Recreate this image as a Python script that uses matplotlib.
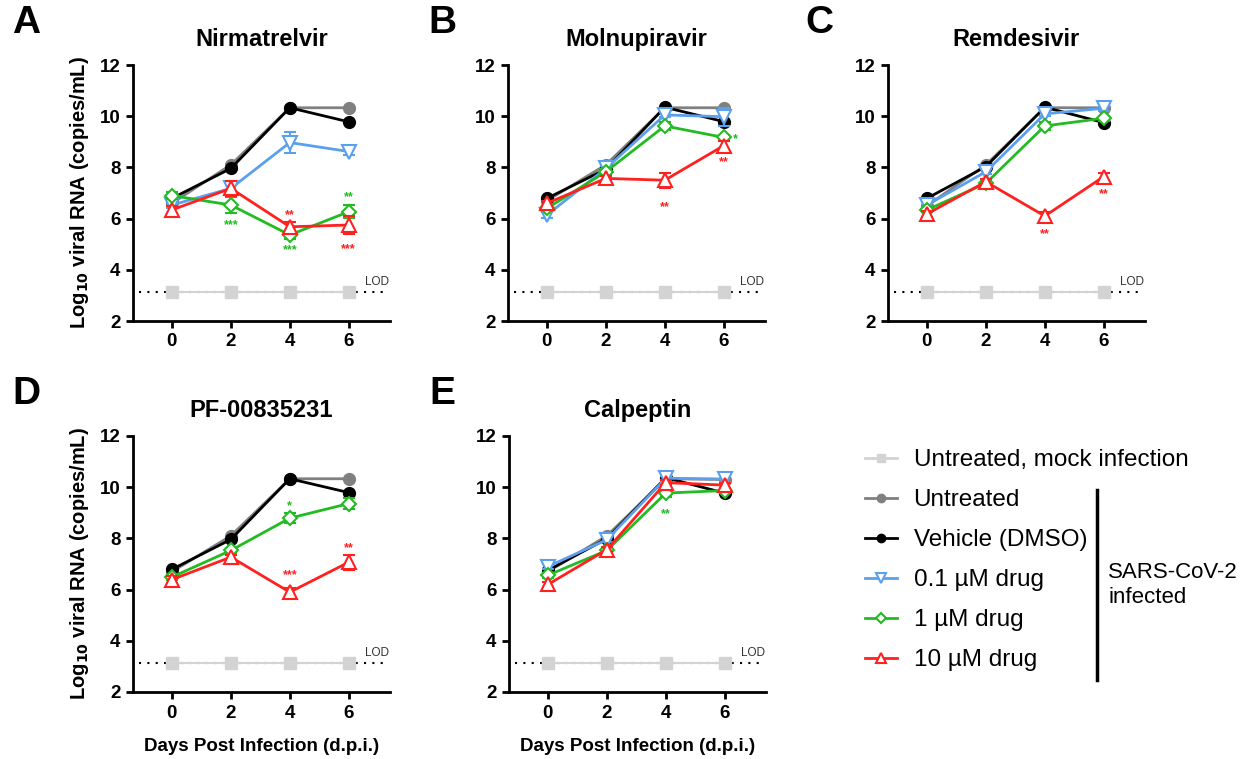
import matplotlib
matplotlib.use("Agg")
import matplotlib.pyplot as plt
from matplotlib.lines import Line2D
import numpy as np

plt.rcParams['font.family'] = ['Liberation Sans', 'DejaVu Sans']

days = [0, 2, 4, 6]
titles = ["Nirmatrelvir", "Molnupiravir", "Remdesivir", "PF-00835231", "Calpeptin"]
letters = ["A", "B", "C", "D", "E"]
lod = 3.15

mock = [3.15, 3.15, 3.15, 3.15]

# log10 viral RNA per panel
untreated = [[6.6, 8.1, 10.33, 10.33],
             [6.7, 8.1, 10.33, 10.33],
             [6.5, 8.1, 10.33, 10.33],
             [6.7, 8.1, 10.33, 10.33],
             [6.7, 8.1, 10.33, 10.3]]
vehicle = [[6.79, 7.96, 10.33, 9.78],
           [6.79, 7.93, 10.35, 9.79],
           [6.79, 8.03, 10.35, 9.75],
           [6.79, 7.96, 10.33, 9.79],
           [6.75, 7.99, 10.37, 9.77]]
drug01 = [[6.53, 7.18, 8.97, 8.62],
          [6.14, 7.96, 10.05, 9.98],
          [6.53, 7.83, 10.09, 10.31],
          None,
          [6.9, 7.95, 10.35, 10.32]]
drug1 = [[6.9, 6.53, 5.36, 6.27],
         [6.4, 7.83, 9.62, 9.17],
         [6.34, 7.38, 9.62, 9.92],
         [6.49, 7.53, 8.79, 9.36],
         [6.56, 7.53, 9.77, 9.87]]
drug10 = [[6.34, 7.18, 5.68, 5.75],
          [6.6, 7.57, 7.5, 8.85],
          [6.18, 7.44, 6.1, 7.64],
          [6.39, 7.27, 5.9, 7.07],
          [6.2, 7.56, 10.18, 10.08]]

err01 = [[0.1, 0.15, 0.4, 0.15],
         [0.1, 0.1, 0.1, 0.35],
         [0.1, 0.1, 0.1, 0.1],
         None,
         [0.1, 0.1, 0.1, 0.1]]
err1 = [[0.15, 0.3, 0.15, 0.25],
        [0.1, 0.1, 0.15, 0.1],
        [0.1, 0.1, 0.15, 0.1],
        [0.1, 0.1, 0.2, 0.2],
        [0.1, 0.1, 0.15, 0.1]]
err10 = [[0.15, 0.3, 0.2, 0.35],
         [0.1, 0.1, 0.3, 0.2],
         [0.1, 0.1, 0.15, 0.15],
         [0.15, 0.1, 0.15, 0.3],
         [0.1, 0.1, 0.1, 0.1]]

# significance marks: (day, y, text, series)
stars = [[(2, 5.75, "***", "g"), (4, 6.15, "**", "r"), (4, 4.75, "***", "g"),
          (6, 6.85, "**", "g"), (6, 4.8, "***", "r")],
         [(6.4, 9.1, "*", "g"), (6, 8.2, "**", "r"), (4, 6.45, "**", "r")],
         [(4, 5.4, "**", "r"), (6, 6.95, "**", "r")],
         [(4, 9.25, "*", "g"), (4, 6.55, "***", "r"), (6, 7.6, "**", "r")],
         [(4, 8.95, "**", "g")]]

c_mock = "#d3d3d3"
c_unt = "#808080"
c_veh = "black"
c_blue = "#5aa0ee"
c_green = "#22bb22"
c_red = "#ff2020"
star_col = {"g": c_green, "r": c_red}

fig = plt.figure(figsize=(12.45, 7.59), dpi=100)
W, H = 1245.0, 759.0
lefts = [133, 508, 888, 133, 509]
bottoms = [321, 321, 321, 692, 692]
letter_dx = [-121, -80, -83, -121, -80]

for i in range(5):
    ax = fig.add_axes([lefts[i] / W, 1 - bottoms[i] / H, 257 / W, 256 / H])
    ax.plot([-1.1, 7.35], [lod, lod], ls=(0, (1, 3)), color="black", lw=1.5, zorder=1)
    ax.text(7.35, lod + 0.15, "LOD", ha="right", va="bottom", fontsize=8.5, color="#333333")
    ax.plot(days, mock, color=c_mock, lw=1.5, marker="s", ms=8, zorder=2)
    ax.plot(days, untreated[i], color=c_unt, lw=2, marker="o", ms=8.5, zorder=3)
    ax.plot(days, vehicle[i], color=c_veh, lw=2, marker="o", ms=8.5, zorder=4)
    if drug01[i] is not None:
        ax.errorbar(days, drug01[i], yerr=err01[i], color=c_blue, lw=2, marker="v", ms=10,
                    mfc="white", mew=1.5, capsize=4, elinewidth=1.5, zorder=5)
    ax.errorbar(days, drug1[i], yerr=err1[i], color=c_green, lw=2, marker="D", ms=7,
                mfc="white", mew=1.5, capsize=4, elinewidth=1.5, zorder=6)
    ax.errorbar(days, drug10[i], yerr=err10[i], color=c_red, lw=2, marker="^", ms=10,
                mfc="white", mew=1.5, capsize=4, elinewidth=1.5, zorder=7)
    for d, y, s, k in stars[i]:
        ax.text(d, y, s, ha="center", va="center", fontsize=9, color=star_col[k], fontweight="bold")

    ax.set_xlim(-1.32, 7.4)
    ax.set_ylim(2, 12)
    ax.set_xticks(days)
    ax.set_yticks([2, 4, 6, 8, 10, 12])
    for sp in ["top", "right"]:
        ax.spines[sp].set_visible(False)
    for sp in ["left", "bottom"]:
        ax.spines[sp].set_linewidth(2)
    ax.tick_params(width=2, length=5, labelsize=13.5, pad=4)
    for lab in ax.get_xticklabels() + ax.get_yticklabels():
        lab.set_fontweight("bold")
    ax.set_title(titles[i], fontsize=17, fontweight="bold", pad=14)
    if i in (0, 3):
        ax.set_ylabel("Log$_{\\mathbf{10}}$ viral RNA (copies/mL)", fontsize=14.5, fontweight="bold", labelpad=6)
    if i >= 3:
        ax.set_xlabel("Days Post Infection (d.p.i.)", fontsize=13.5, fontweight="bold", labelpad=12)
    ax.text(letter_dx[i] / 257, 1 + 42 / 256, letters[i], transform=ax.transAxes, fontsize=28,
            fontweight="bold", ha="left", va="center")

# legend
handles = [
    Line2D([], [], color=c_mock, lw=2, marker="s", ms=6),
    Line2D([], [], color=c_unt, lw=2, marker="o", ms=6),
    Line2D([], [], color=c_veh, lw=2, marker="o", ms=6),
    Line2D([], [], color=c_blue, lw=2, marker="v", ms=7, mfc="white", mew=1.5),
    Line2D([], [], color=c_green, lw=2, marker="D", ms=5, mfc="white", mew=1.5),
    Line2D([], [], color=c_red, lw=2, marker="^", ms=7, mfc="white", mew=1.5),
]
labels = ["Untreated, mock infection", "Untreated", "Vehicle (DMSO)",
          "0.1 µM drug", "1 µM drug", "10 µM drug"]
fig.legend(handles, labels, loc="upper left", bbox_to_anchor=(865 / W, 1 - 449 / H),
           frameon=False, fontsize=17.5, handlelength=1.33, handletextpad=0.67,
           labelspacing=0.74, borderpad=0, borderaxespad=0)
fig.add_artist(Line2D([1097 / W, 1097 / W], [1 - 490 / H, 1 - 680 / H], color="black", lw=2.5))
fig.text(1108 / W, 1 - 585 / H, "SARS-CoV-2\ninfected", fontsize=16, ha="left", va="center",
         linespacing=1.2)

fig.savefig("out.png", dpi=100)
